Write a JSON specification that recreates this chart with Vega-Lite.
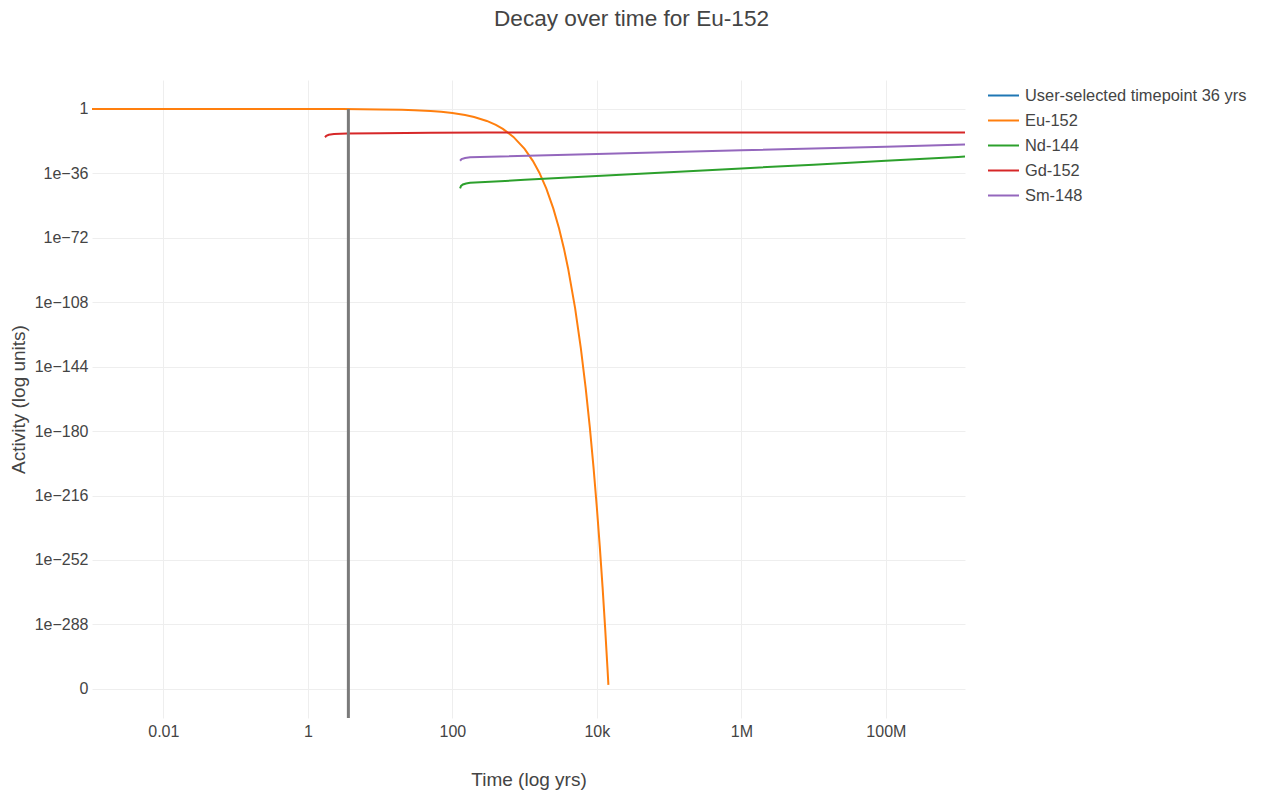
{
  "$schema": "https://vega.github.io/schema/vega-lite/v6.json",
  "autosize": {"type": "none"},
  "width": 873,
  "height": 638,
  "padding": {"left": 92, "top": 80, "right": 297, "bottom": 78},
  "background": "white",
  "config": {
    "view": {"stroke": null},
    "font": "Liberation Sans",
    "axis": {
      "domain": false,
      "ticks": false,
      "grid": true,
      "gridColor": "#eeeeee",
      "gridWidth": 1,
      "labelFont": "Liberation Sans",
      "labelFontSize": 16,
      "labelColor": "#444444",
      "titleFont": "Liberation Sans",
      "titleFontSize": 19,
      "titleFontWeight": "normal",
      "titleColor": "#444444"
    },
    "legend": {
      "labelFont": "Liberation Sans",
      "labelFontSize": 16.4,
      "labelColor": "#444444"
    }
  },
  "title": {
    "text": "Decay over time for Eu-152",
    "font": "Liberation Sans",
    "fontSize": 22.6,
    "fontWeight": "normal",
    "color": "#444444",
    "anchor": "middle",
    "frame": "group",
    "dx": 103,
    "baseline": "alphabetic",
    "offset": 30
  },
  "datasets": {
    "curves": [
      {"series": "Eu-152", "t": 0.00103, "logA": 0},
      {"series": "Eu-152", "t": 0.01, "logA": -0.0002},
      {"series": "Eu-152", "t": 0.1, "logA": -0.002},
      {"series": "Eu-152", "t": 1, "logA": -0.022},
      {"series": "Eu-152", "t": 3, "logA": -0.067},
      {"series": "Eu-152", "t": 10, "logA": -0.22},
      {"series": "Eu-152", "t": 20, "logA": -0.45},
      {"series": "Eu-152", "t": 30, "logA": -0.67},
      {"series": "Eu-152", "t": 50, "logA": -1.11},
      {"series": "Eu-152", "t": 70, "logA": -1.56},
      {"series": "Eu-152", "t": 100, "logA": -2.23},
      {"series": "Eu-152", "t": 150, "logA": -3.34},
      {"series": "Eu-152", "t": 200, "logA": -4.45},
      {"series": "Eu-152", "t": 300, "logA": -6.68},
      {"series": "Eu-152", "t": 400, "logA": -8.9},
      {"series": "Eu-152", "t": 500, "logA": -11.1},
      {"series": "Eu-152", "t": 700, "logA": -15.6},
      {"series": "Eu-152", "t": 1000, "logA": -22.3},
      {"series": "Eu-152", "t": 1300, "logA": -29.0},
      {"series": "Eu-152", "t": 1600, "logA": -35.6},
      {"series": "Eu-152", "t": 2000, "logA": -44.5},
      {"series": "Eu-152", "t": 2500, "logA": -55.7},
      {"series": "Eu-152", "t": 3000, "logA": -66.8},
      {"series": "Eu-152", "t": 3500, "logA": -77.9},
      {"series": "Eu-152", "t": 4000, "logA": -89.1},
      {"series": "Eu-152", "t": 5000, "logA": -111.3},
      {"series": "Eu-152", "t": 6000, "logA": -133.6},
      {"series": "Eu-152", "t": 7000, "logA": -155.9},
      {"series": "Eu-152", "t": 8000, "logA": -178.1},
      {"series": "Eu-152", "t": 9000, "logA": -200.4},
      {"series": "Eu-152", "t": 10000, "logA": -222.7},
      {"series": "Eu-152", "t": 11000, "logA": -245.0},
      {"series": "Eu-152", "t": 12000, "logA": -267.2},
      {"series": "Eu-152", "t": 13000, "logA": -289.5},
      {"series": "Eu-152", "t": 14000, "logA": -311.8},
      {"series": "Eu-152", "t": 14450, "logA": -321.8},

      {"series": "Nd-144", "t": 128, "logA": -44.3},
      {"series": "Nd-144", "t": 132, "logA": -43.0},
      {"series": "Nd-144", "t": 140, "logA": -42.2},
      {"series": "Nd-144", "t": 155, "logA": -41.6},
      {"series": "Nd-144", "t": 176, "logA": -41.2},
      {"series": "Nd-144", "t": 1000, "logA": -39.6},
      {"series": "Nd-144", "t": 10000, "logA": -37.5},
      {"series": "Nd-144", "t": 100000, "logA": -35.3},
      {"series": "Nd-144", "t": 1000000, "logA": -33.2},
      {"series": "Nd-144", "t": 10000000, "logA": -31.1},
      {"series": "Nd-144", "t": 100000000, "logA": -28.9},
      {"series": "Nd-144", "t": 1000000000, "logA": -26.8},
      {"series": "Nd-144", "t": 1245000000, "logA": -26.6},

      {"series": "Gd-152", "t": 1.73, "logA": -15.8},
      {"series": "Gd-152", "t": 1.8, "logA": -15.0},
      {"series": "Gd-152", "t": 1.95, "logA": -14.4},
      {"series": "Gd-152", "t": 2.3, "logA": -14.0},
      {"series": "Gd-152", "t": 3.5, "logA": -13.7},
      {"series": "Gd-152", "t": 10, "logA": -13.5},
      {"series": "Gd-152", "t": 50, "logA": -13.3},
      {"series": "Gd-152", "t": 300, "logA": -13.2},
      {"series": "Gd-152", "t": 10000, "logA": -13.2},
      {"series": "Gd-152", "t": 1000000, "logA": -13.2},
      {"series": "Gd-152", "t": 1245000000, "logA": -13.2},

      {"series": "Sm-148", "t": 128, "logA": -28.9},
      {"series": "Sm-148", "t": 134, "logA": -28.0},
      {"series": "Sm-148", "t": 150, "logA": -27.4},
      {"series": "Sm-148", "t": 176, "logA": -27.0},
      {"series": "Sm-148", "t": 10000, "logA": -25.2},
      {"series": "Sm-148", "t": 1000000, "logA": -23.1},
      {"series": "Sm-148", "t": 100000000, "logA": -21.1},
      {"series": "Sm-148", "t": 1245000000, "logA": -19.9}
    ],
    "marker": [
      {"t": 3.64, "label": "User-selected timepoint 36 yrs"}
    ]
  },
  "layer": [
    {
      "data": {"name": "curves"},
      "mark": {"type": "line", "strokeWidth": 2, "clip": true},
      "encoding": {
        "x": {
          "field": "t",
          "type": "quantitative",
          "scale": {"type": "log", "domain": [0.00103, 1245000000], "nice": false},
          "axis": {
            "title": "Time (log yrs)",
            "values": [0.01, 1, 100, 10000, 1000000, 100000000],
            "labelExpr": "datum.value == 0.01 ? '0.01' : datum.value == 1 ? '1' : datum.value == 100 ? '100' : datum.value == 10000 ? '10k' : datum.value == 1000000 ? '1M' : '100M'",
            "labelPadding": 5,
            "titlePadding": 31
          }
        },
        "y": {
          "field": "logA",
          "type": "quantitative",
          "scale": {"domain": [-340.3, 16.2], "nice": false, "zero": false},
          "axis": {
            "title": "Activity (log units)",
            "values": [0, -36, -72, -108, -144, -180, -216, -252, -288, -324],
            "labelExpr": "datum.value == 0 ? '1' : datum.value <= -324 ? '0' : '1e\u2212' + abs(datum.value)",
            "labelPadding": 4,
            "titlePadding": 6
          }
        },
        "color": {
          "field": "series",
          "type": "nominal",
          "scale": {
            "domain": ["User-selected timepoint 36 yrs", "Eu-152", "Nd-144", "Gd-152", "Sm-148"],
            "range": ["#1f77b4", "#ff7f0e", "#2ca02c", "#d62728", "#9467bd"]
          },
          "legend": {
            "title": null,
            "orient": "none",
            "legendX": 895,
            "legendY": -1,
            "symbolType": "stroke",
            "symbolSize": 961,
            "symbolStrokeWidth": 2,
            "labelOffset": 5,
            "labelLimit": 400,
            "rowPadding": -1
          }
        }
      }
    },
    {
      "data": {"name": "marker"},
      "mark": {"type": "rule", "color": "#7a7a7a", "strokeWidth": 3},
      "encoding": {
        "x": {"field": "t", "type": "quantitative"},
        "y": {"datum": 0},
        "y2": {"datum": -340.3}
      }
    }
  ]
}
